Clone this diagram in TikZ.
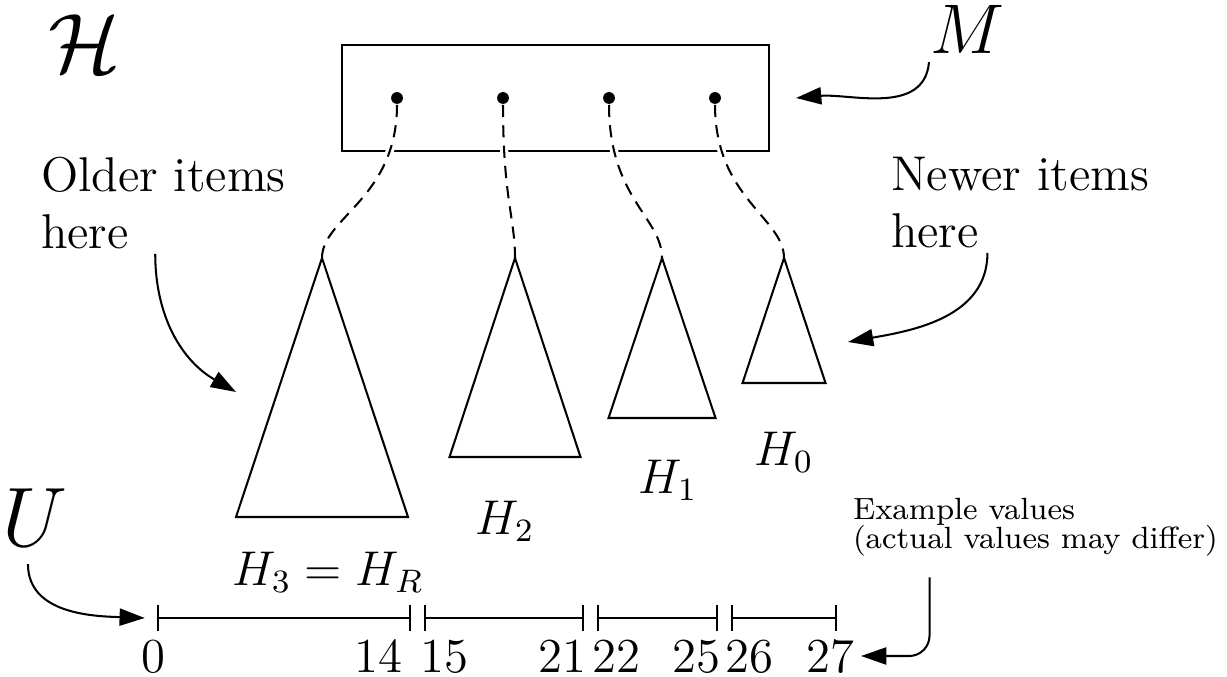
\documentclass[tikz,border=0pt]{standalone}
\usetikzlibrary{arrows.meta,positioning,calc}

\begin{document}
\begin{tikzpicture}[
  x=0.2457pt, y=0.2457pt,
  >={Triangle[length=6.2pt,width=4.2pt]},
  every path/.style={line width=0.5pt},
  symlabel/.style={inner sep=0pt},
  heaplabel/.style={font=\large, inner sep=1pt},
  sidetext/.style={font=\large, align=left, inner sep=0pt, anchor=north west},
  smalltext/.style={font=\fontsize{7.55}{9.5}\selectfont, align=left, inner sep=0pt, anchor=north west},
  slot/.style={circle, fill, inner sep=0pt, minimum size=2.9pt},
  link/.style={dash pattern=on 3pt off 2pt,
               preaction={draw=white, line width=2pt, solid}},
  span/.style={{Bar[width=6.4pt]}-{Bar[width=6.4pt]}},
  num/.style={font=\large, inner sep=1pt, anchor=base},
]
\useasboundingbox (0,0) rectangle (1227,676);

% --- Big symbols ---
\node[symlabel, font=\huge]  (hset) at (85,632)  {$\mathcal{H}$};
\node[symlabel, font=\LARGE] (mlab) at (967,647) {$M$};
\node[symlabel, font=\huge]  (ulab) at (35,158)  {$U$};

% --- Memory box with one slot per heap ---
\node[draw, minimum width=104.9pt, minimum height=26pt, inner sep=0pt] (mem) at (555.5,578) {};
\node[slot] (d3) at (397,578) {};
\node[slot] (d2) at (503,578) {};
\node[slot] (d1) at (609,578) {};
\node[slot] (d0) at (715,578) {};

% --- Heap roots ---
\coordinate (t3) at (322,418);
\coordinate (t2) at (515,418);
\coordinate (t1) at (662,418);
\coordinate (t0) at (784,418);

% Slots point down to the roots of the heaps
\draw[link] (d3) .. controls +(0,-100) and +(0,40) .. (t3);
\draw[link] (d2) .. controls +(0,-100) and +(0,40) .. (t2);
\draw[link] (d1) .. controls +(0,-100) and +(0,40) .. (t1);
\draw[link] (d0) .. controls +(0,-100) and +(0,40) .. (t0);

% --- Heaps, largest (oldest) on the left ---
\draw (t3) -- ++(-86,-259) -- ++(172,0) -- cycle;
\draw (t2) -- ++(-65.5,-199) -- ++(131,0) -- cycle;
\draw (t1) -- ++(-53.5,-160) -- ++(107,0) -- cycle;
\draw (t0) -- ++(-41.5,-125) -- ++(83,0) -- cycle;

\node[heaplabel] (h3lab) at (328,104) {$H_3 = H_R$};
\node[heaplabel] (h2lab) at (505,155) {$H_2$};
\node[heaplabel] (h1lab) at (668,196) {$H_1$};
\node[heaplabel] (h0lab) at (784,224) {$H_0$};

% --- Side remarks ---
\node[sidetext] (older) at (40,520)  {Older items\\here};
\node[sidetext] (newer) at (890,520) {Newer items\\here};
\node[smalltext] (note) at (852,179) {Example values\\[-2.4pt](actual values may differ)};

% --- Index ranges of U ---
\coordinate (a0) at (157,58); \coordinate (b0) at (411,58);
\coordinate (a1) at (424,58); \coordinate (b1) at (584,58);
\coordinate (a2) at (597,58); \coordinate (b2) at (718,58);
\coordinate (a3) at (731,58); \coordinate (b3) at (837,58);
\draw[span] (a0) -- (b0);
\draw[span] (a1) -- (b1);
\draw[span] (a2) -- (b2);
\draw[span] (a3) -- (b3);

\node[num] (n0)  at (153,4) {0};
\node[num] (n14) at (378,4) {14};
\node[num] (n15) at (444,4) {15};
\node[num] (n21) at (562,4) {21};
\node[num] (n22) at (616,4) {22};
\node[num] (n25) at (696,4) {25};
\node[num] (n26) at (749,4) {26};
\node[num] (n27) at (830,4) {27};

% --- Pointer arrows ---
\draw[->] ([xshift=-2pt,yshift=-1pt]older.south) to[out=-90,in=150] (236,284);
\draw[->] ([xshift=-8pt,yshift=-1pt]newer.south) to[out=-90,in=10] (848,334);
\draw[->] ([xshift=-0pt,yshift=-2pt]mlab.south west) to[out=-95,in=5] ([xshift=6.4pt]mem.east);
\draw[->] ([xshift=6.5pt,yshift=-4pt]ulab.south west) to[out=-90,in=178] ([xshift=-3pt]a0);
\draw[->, rounded corners=5pt] ([xshift=-26pt,yshift=-5pt]note.south) |- ([xshift=0.5pt]n27.east);
\end{tikzpicture}
\end{document}
